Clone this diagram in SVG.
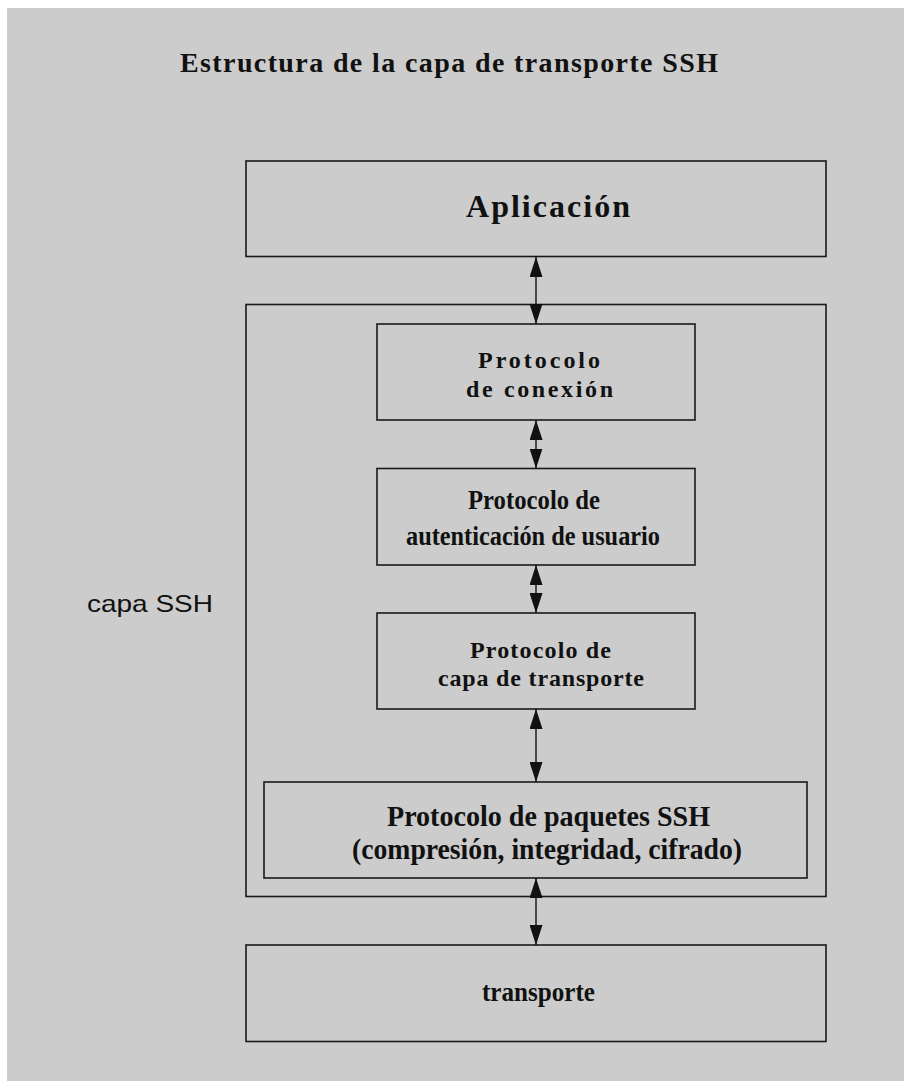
<svg xmlns="http://www.w3.org/2000/svg" width="904" height="1081" viewBox="0 0 904 1081">
  <style>
    .box { fill: none; stroke: #1a1a1a; stroke-width: 1.6; }
    .lbl { font-family: "Liberation Serif", "Times New Roman", serif; font-weight: bold; fill: #111; }
    .side { font-family: "Liberation Sans", Arial, sans-serif; fill: #111; }
    .link { stroke: #111; stroke-width: 1.4; fill: none; marker-start: url(#head); marker-end: url(#head); }
  </style>
  <defs>
    <marker id="head" viewBox="0 0 20 13" refX="20" refY="6.5" markerWidth="20" markerHeight="13" markerUnits="userSpaceOnUse" orient="auto-start-reverse">
      <path d="M0,0 L20,6.5 L0,13 Z" fill="#111"/>
    </marker>
  </defs>

  <!-- page -->
  <rect x="0" y="0" width="904" height="1081" fill="#ffffff"/>
  <rect x="7" y="8" width="897" height="1073" fill="#cccccc"/>

  <text class="lbl" x="180" y="72" font-size="28" textLength="538" lengthAdjust="spacing">Estructura de la capa de transporte SSH</text>

  <g id="aplicacion">
    <rect class="box" x="246" y="161" width="580" height="95.5"/>
    <text class="lbl" x="466" y="217" font-size="32" textLength="164" lengthAdjust="spacing">Aplicación</text>
  </g>

  <g id="capa-ssh">
    <rect class="box" x="246" y="304.5" width="580" height="592"/>
    <text class="side" x="87" y="612" font-size="24" textLength="126" lengthAdjust="spacingAndGlyphs">capa SSH</text>
  </g>

  <g id="conexion">
    <rect class="box" x="377" y="324" width="318" height="96"/>
    <text class="lbl" x="478" y="368" font-size="24" textLength="122" lengthAdjust="spacing">Protocolo</text>
    <text class="lbl" x="466" y="397" font-size="24" textLength="147" lengthAdjust="spacing">de conexión</text>
  </g>

  <g id="autenticacion">
    <rect class="box" x="377" y="468.5" width="318" height="96.5"/>
    <text class="lbl" x="468" y="509" font-size="27" textLength="132" lengthAdjust="spacingAndGlyphs">Protocolo de</text>
    <text class="lbl" x="406" y="545" font-size="27" textLength="254" lengthAdjust="spacingAndGlyphs">autenticación de usuario</text>
  </g>

  <g id="transporte-ssh">
    <rect class="box" x="377" y="613" width="318" height="96"/>
    <text class="lbl" x="470" y="658" font-size="24" textLength="141" lengthAdjust="spacing">Protocolo de</text>
    <text class="lbl" x="438" y="686" font-size="24" textLength="206" lengthAdjust="spacing">capa de transporte</text>
  </g>

  <g id="paquetes">
    <rect class="box" x="264" y="782" width="543" height="96"/>
    <text class="lbl" x="387" y="826" font-size="30" textLength="323" lengthAdjust="spacingAndGlyphs">Protocolo de paquetes SSH</text>
    <text class="lbl" x="352" y="859" font-size="30" textLength="390" lengthAdjust="spacingAndGlyphs">(compresión, integridad, cifrado)</text>
  </g>

  <g id="transporte">
    <rect class="box" x="246" y="945" width="580" height="96.5"/>
    <text class="lbl" x="482" y="1001" font-size="28" textLength="113" lengthAdjust="spacingAndGlyphs">transporte</text>
  </g>

  <g id="connectors">
    <line class="link" x1="536" y1="257" x2="536" y2="324"/>
    <line class="link" x1="536" y1="420" x2="536" y2="468.5"/>
    <line class="link" x1="536" y1="565" x2="536" y2="613"/>
    <line class="link" x1="536" y1="709" x2="536" y2="782"/>
    <line class="link" x1="536" y1="878" x2="536" y2="945"/>
  </g>
</svg>
